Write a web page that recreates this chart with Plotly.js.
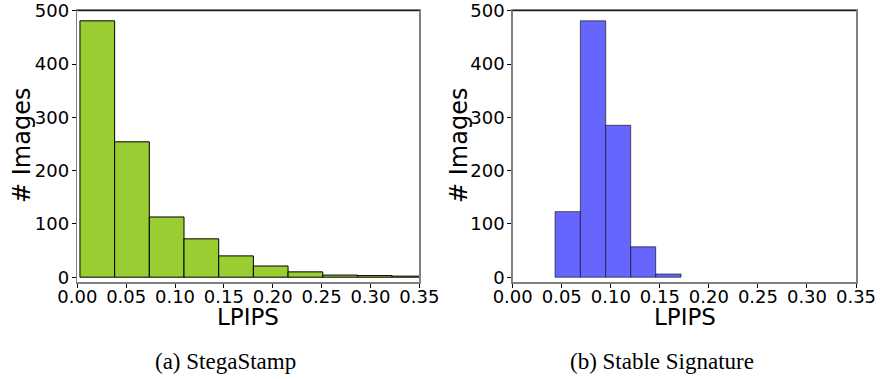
<!DOCTYPE html>
<html>
<head>
<meta charset="utf-8">
<script src="https://cdn.plot.ly/plotly-3.0.1.min.js"></script>
<style>body{margin:0;padding:0;background:#fff;} #chart{width:880px;height:379px;}</style>
</head>
<body>
<div id="chart"></div>
<script>
// Left histogram (StegaStamp)
const stegaEdges = [0.0027, 0.0382, 0.0737, 0.1092, 0.1447, 0.1802, 0.2157, 0.2512, 0.2867, 0.3222, 0.3577];
const stegaCounts = [481, 254, 113, 72, 40, 21, 10, 4, 3, 2];
// Right histogram (Stable Signature)
const stableEdges = [0.0432, 0.0690, 0.0948, 0.1203, 0.1458, 0.1716];
const stableCounts = [123, 481, 285, 57, 6];
const xTicks = [0, 0.05, 0.10, 0.15, 0.20, 0.25, 0.30, 0.35];
const xTickLabels = ["0.00", "0.05", "0.10", "0.15", "0.20", "0.25", "0.30", "0.35"];
const yTicks = [0, 100, 200, 300, 400, 500];
const captions = ["(a) StegaStamp", "(b) Stable Signature"];
const xTitle = "LPIPS";
const yTitle = "# Images";

function centers(e){ const c=[]; for(let i=0;i<e.length-1;i++) c.push((e[i]+e[i+1])/2); return c; }
function widths(e){ const w=[]; for(let i=0;i<e.length-1;i++) w.push(e[i+1]-e[i]); return w; }

const traces = [
  {type:'bar', x:centers(stegaEdges), y:stegaCounts, width:widths(stegaEdges),
   marker:{color:'#9acd32', line:{color:'#000', width:1}}, xaxis:'x', yaxis:'y', hoverinfo:'x+y'},
  {type:'bar', x:centers(stableEdges), y:stableCounts, width:widths(stableEdges),
   marker:{color:'#6666ff', line:{color:'rgba(0,0,0,0.6)', width:1}}, xaxis:'x2', yaxis:'y2', hoverinfo:'x+y'}
];

const tickFont = {family:'DejaVu Sans', size:18, color:'#000'};
const xTitleFont = {family:'DejaVu Sans', size:23, color:'#000'};
const yTitleFont = {family:'DejaVu Sans', size:24, color:'#000'};
const capFont = {family:'Liberation Serif', size:23, color:'#000'};
function xax(domain, anchor){
  return {domain:domain, anchor:anchor, range:[0,0.35], tickvals:xTicks, ticktext:xTickLabels,
    ticks:'outside', ticklen:4, tickcolor:'#000', tickfont:tickFont, showgrid:false, zeroline:false,
    ticklabelstandoff:-6, ticklabeloverflow:'allow',
    showline:true, linecolor:'#808080', linewidth:1.5, mirror:true};
}
function yax(domain, anchor){
  return {domain:domain, anchor:anchor, range:[-9,500], tickvals:yTicks,
    ticks:'outside', ticklen:4, tickcolor:'#000', tickfont:tickFont, showgrid:false, zeroline:false,
    ticklabeloverflow:'allow', ticklabelstandoff:-1,
    showline:true, linecolor:'#808080', linewidth:1.5, mirror:true};
}
const yd = [1-282/379, 1-10.7/379];
const yMid = 1-146/379;
function ann(text, x, y, font, rot){
  return {text:text, xref:'paper', yref:'paper', x:x/880, y:y, showarrow:false,
    xanchor:'center', yanchor:'middle', font:font, textangle:rot||0};
}
const layout = {
  width:880, height:379, margin:{l:0,r:0,t:0,b:0},
  paper_bgcolor:'#fff', plot_bgcolor:'#fff', showlegend:false, bargap:0,
  xaxis: xax([77.3/880, 419.3/880], 'y'),
  yaxis: yax(yd, 'x'),
  xaxis2: xax([512.7/880, 856/880], 'y2'),
  yaxis2: yax(yd, 'x2'),
  shapes:[
    {type:'line', xref:'x domain', yref:'y domain', x0:0, x1:1, y0:1, y1:1, line:{color:'#000', width:1}},
    {type:'line', xref:'x2 domain', yref:'y2 domain', x0:0, x1:1, y0:1, y1:1, line:{color:'#000', width:1}}
  ],
  annotations:[
    ann(xTitle, 248, 1-317/379, xTitleFont),
    ann(xTitle, 684.5, 1-317/379, xTitleFont),
    ann(yTitle, 22, yMid, yTitleFont, -90),
    ann(yTitle, 459, yMid, yTitleFont, -90),
    ann(captions[0], 225, 1-361/379, capFont),
    ann(captions[1], 662, 1-361/379, capFont)
  ]
};
Plotly.newPlot('chart', traces, layout, {staticPlot:true, displayModeBar:false});
</script>
</body>
</html>
